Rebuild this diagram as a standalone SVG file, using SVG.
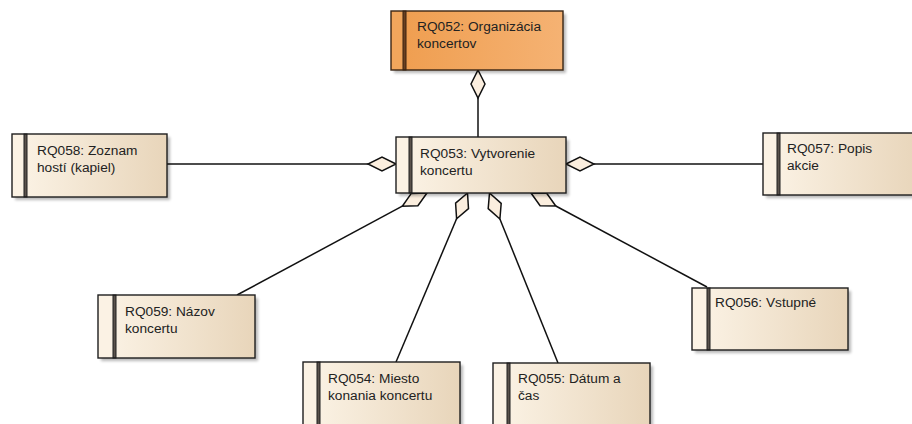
<svg xmlns="http://www.w3.org/2000/svg" width="912" height="424" viewBox="0 0 912 424">
  <defs>
    <linearGradient id="reqFill" x1="0" y1="0" x2="1" y2="0">
      <stop offset="0" stop-color="#fcf4e7"/>
      <stop offset="1" stop-color="#e8d5ba"/>
    </linearGradient>
    <linearGradient id="reqFillHot" x1="0" y1="0" x2="1" y2="0">
      <stop offset="0" stop-color="#ef9d4e"/>
      <stop offset="1" stop-color="#f5b273"/>
    </linearGradient>
    <filter id="soft" x="-10%" y="-10%" width="130%" height="140%">
      <feGaussianBlur stdDeviation="1.5"/>
    </filter>
    <style>
      .shadow { fill: #000; opacity: 0.28; filter: url(#soft); }
      .body { fill: url(#reqFill); }
      .strip { fill: #fbf2e4; }
      .bar { fill: #5a524c; stroke: #1e1e1e; stroke-width: 1; }
      .frame { fill: none; stroke: #1e1e1e; stroke-width: 1.4; }
      .hot .body { fill: url(#reqFillHot); }
      .hot .strip { fill: #f1a65c; }
      .hot .bar { fill: #6a4020; stroke: #3a2210; }
      .hot .frame { stroke: #3a2614; }
      .label { font-family: "Liberation Sans", Arial, sans-serif; font-size: 13.7px; fill: #222; }
      .link { stroke: #111; stroke-width: 1.5; fill: none; }
      .diamond { fill: #fbeede; stroke: #111; stroke-width: 1.5; stroke-linejoin: miter; }
    </style>
  </defs>

  <rect width="912" height="424" fill="#ffffff"/>

  <!-- aggregation connectors: plain line plus diamond at the whole-end -->
  <g id="connectors">
    <line class="link" x1="478" y1="98" x2="478" y2="137"/>
    <polygon class="diamond" points="478,70 485,84 478,98 471,84"/>

    <line class="link" x1="167" y1="164" x2="368" y2="164"/>
    <polygon class="diamond" points="396,164 382,157 368,164 382,171"/>

    <line class="link" x1="594" y1="164" x2="763" y2="164"/>
    <polygon class="diamond" points="566,164 580,157 594,164 580,171"/>

    <line class="link" x1="237" y1="295" x2="402.3" y2="206.2"/>
    <polygon class="diamond" points="427,193 411.3,193.4 402.3,206.2 417.9,205.8"/>

    <line class="link" x1="396" y1="362" x2="456.6" y2="218.8"/>
    <polygon class="diamond" points="467.5,193 455.6,203.2 456.6,218.8 468.5,208.6"/>

    <line class="link" x1="558" y1="363" x2="499.9" y2="219"/>
    <polygon class="diamond" points="489.5,193 488.2,208.6 499.9,219 501.2,203.4"/>

    <line class="link" x1="707" y1="287" x2="555.8" y2="206"/>
    <polygon class="diamond" points="531,193 540.1,205.7 555.8,206 546.7,193.3"/>
  </g>

  <g id="RQ052" class="hot" transform="translate(391,11)">
    <rect class="shadow" x="3" y="3" width="172" height="59"/>
    <rect class="body" width="172" height="59"/>
    <rect class="strip" width="12" height="59"/>
    <rect class="bar" x="12" width="3" height="59"/>
    <rect class="frame" width="172" height="59"/>
    <text class="label" x="26" y="20">RQ052: Organizácia</text>
    <text class="label" x="26" y="37">koncertov</text>
  </g>

  <g id="RQ053" transform="translate(396,137)">
    <rect class="shadow" x="3" y="3" width="170" height="56"/>
    <rect class="body" width="170" height="56"/>
    <rect class="strip" width="13" height="56"/>
    <rect class="bar" x="13" width="3" height="56"/>
    <rect class="frame" width="170" height="56"/>
    <text class="label" x="24" y="21">RQ053: Vytvorenie</text>
    <text class="label" x="24" y="38">koncertu</text>
  </g>

  <g id="RQ058" transform="translate(12,134)">
    <rect class="shadow" x="3" y="3" width="155" height="63"/>
    <rect class="body" width="155" height="63"/>
    <rect class="strip" width="12" height="63"/>
    <rect class="bar" x="12" width="3" height="63"/>
    <rect class="frame" width="155" height="63"/>
    <text class="label" x="25" y="21">RQ058: Zoznam</text>
    <text class="label" x="25" y="38">hostí (kapiel)</text>
  </g>

  <g id="RQ057" transform="translate(763,133)">
    <rect class="shadow" x="3" y="3" width="156" height="62"/>
    <rect class="body" width="156" height="62"/>
    <rect class="strip" width="14" height="62"/>
    <rect class="bar" x="14" width="3" height="62"/>
    <rect class="frame" width="156" height="62"/>
    <text class="label" x="24" y="20">RQ057: Popis</text>
    <text class="label" x="24" y="37">akcie</text>
  </g>

  <g id="RQ059" transform="translate(98,295)">
    <rect class="shadow" x="3" y="3" width="157" height="63"/>
    <rect class="body" width="157" height="63"/>
    <rect class="strip" width="15" height="63"/>
    <rect class="bar" x="15" width="3" height="63"/>
    <rect class="frame" width="157" height="63"/>
    <text class="label" x="27" y="21">RQ059: Názov</text>
    <text class="label" x="27" y="38">koncertu</text>
  </g>

  <g id="RQ054" transform="translate(303,362)">
    <rect class="shadow" x="3" y="3" width="157" height="70"/>
    <rect class="body" width="157" height="70"/>
    <rect class="strip" width="14" height="70"/>
    <rect class="bar" x="14" width="3" height="70"/>
    <rect class="frame" width="157" height="70"/>
    <text class="label" x="25" y="21">RQ054: Miesto</text>
    <text class="label" x="25" y="38">konania koncertu</text>
  </g>

  <g id="RQ055" transform="translate(493,363)">
    <rect class="shadow" x="3" y="3" width="157" height="70"/>
    <rect class="body" width="157" height="70"/>
    <rect class="strip" width="14" height="70"/>
    <rect class="bar" x="14" width="3" height="70"/>
    <rect class="frame" width="157" height="70"/>
    <text class="label" x="25" y="20">RQ055: Dátum a</text>
    <text class="label" x="25" y="37">čas</text>
  </g>

  <g id="RQ056" transform="translate(692,288)">
    <rect class="shadow" x="3" y="3" width="156" height="62"/>
    <rect class="body" width="156" height="62"/>
    <rect class="strip" width="15" height="62"/>
    <rect class="bar" x="15" width="3" height="62"/>
    <rect class="frame" width="156" height="62"/>
    <text class="label" x="23" y="19">RQ056: Vstupné</text>
  </g>
</svg>
